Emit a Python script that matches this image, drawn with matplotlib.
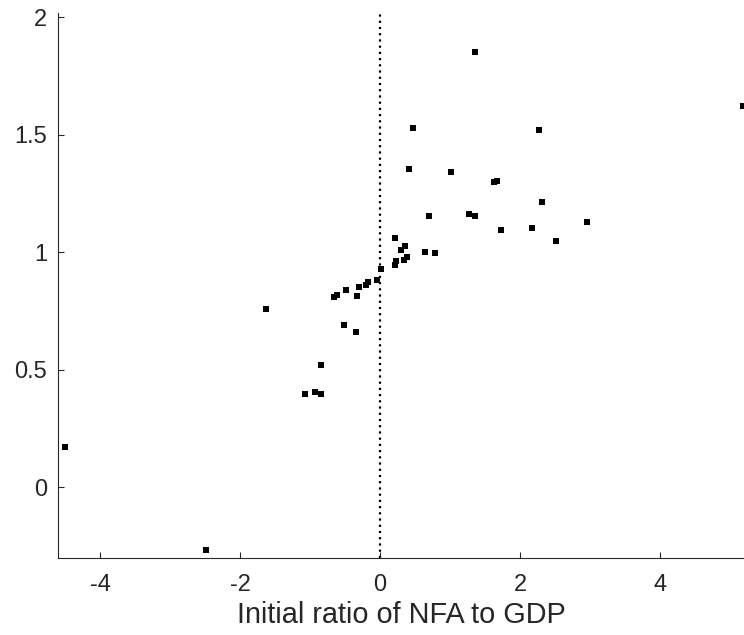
import matplotlib
matplotlib.use("Agg")
import matplotlib.pyplot as plt

plt.rcParams['font.family'] = ['Liberation Sans', 'DejaVu Sans']

# Initial NFA/GDP ratio and the outcome plotted on the y axis
nfa_ratio = [
    0.696, 1.267, 1.353, 0.205, 0.349, 0.291, 0.634, 0.777, 0.220, 0.205,
    0.334, 0.377, 0.005, -0.051, -0.176, -0.209, -0.304, -0.494, -0.623, -0.666,
    -0.337, -1.637, -0.523, -0.351, -0.851, -1.080, -0.937, -0.851,
    1.353, 0.467, 0.410, 1.010, 1.620, 1.663,
    5.186, 2.277, 2.320, 2.949, 2.163, 1.734, 2.510,
    -4.504, -2.490,
]
y_values = [
    1.153, 1.161, 1.156, 1.059, 1.025, 1.008, 1.003, 0.999, 0.965, 0.948,
    0.969, 0.978, 0.931, 0.884, 0.872, 0.863, 0.853, 0.838, 0.817, 0.808,
    0.812, 0.757, 0.689, 0.659, 0.519, 0.396, 0.405, 0.396,
    1.853, 1.530, 1.356, 1.343, 1.301, 1.305,
    1.622, 1.521, 1.216, 1.127, 1.104, 1.097, 1.050,
    0.171, -0.266,
]

x_ticks = [-4, -2, 0, 2, 4]
y_ticks = [0, 0.5, 1, 1.5, 2]

text_col = '#262626'

fig = plt.figure(figsize=(7.44, 6.35), dpi=100)
ax = fig.add_axes([0.0784, 0.1217, 0.9216, 0.8583])

ax.axvline(0, color='k', linestyle=(0, (1, 1.8)), linewidth=1.6, zorder=1)
ax.plot(nfa_ratio, y_values, linestyle='none', marker='s', markersize=4.3,
        markeredgewidth=0, color='k', zorder=2)

ax.set_xlim(-4.6, 5.2)
ax.set_ylim(-0.3, 2.02)
ax.set_xticks(x_ticks)
ax.set_xticklabels([str(t) for t in x_ticks])
ax.set_yticks(y_ticks)
ax.set_yticklabels(['0', '0.5', '1', '1.5', '2'])

for side in ['top', 'right']:
    ax.spines[side].set_visible(False)
for side in ['left', 'bottom']:
    ax.spines[side].set_color(text_col)
    ax.spines[side].set_linewidth(0.8)

ax.tick_params(direction='in', length=4.5, width=0.8, colors=text_col,
               labelsize=17)
ax.tick_params(axis='y', pad=8)
ax.tick_params(axis='x', pad=12)
ax.set_xlabel('Initial ratio of NFA to GDP', fontsize=20.8, color=text_col,
              labelpad=3)

fig.savefig('out.png', dpi=100)
